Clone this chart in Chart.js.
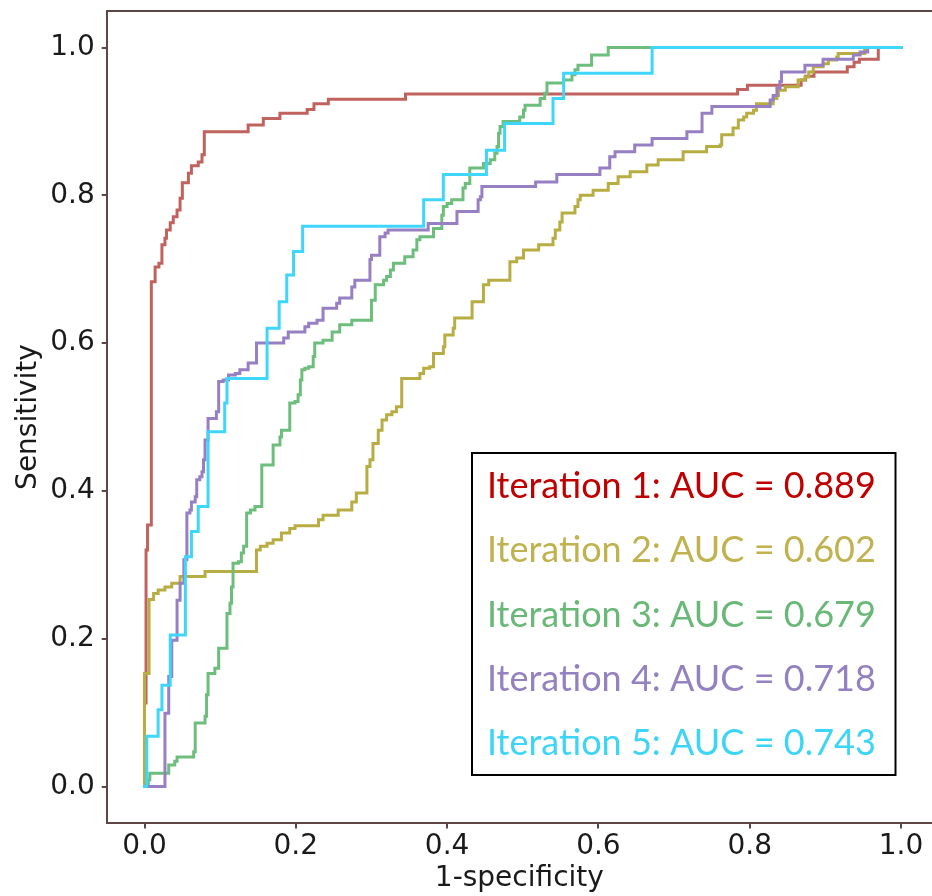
<!DOCTYPE html>
<html>
<head>
<meta charset="utf-8">
<script src="https://cdn.jsdelivr.net/npm/chart.js@4.4.0/dist/chart.umd.min.js"></script>
<style>
  html, body { margin: 0; padding: 0; background: #fff; overflow: hidden; }
  #roc { display: block; }
</style>
</head>
<body>
<canvas id="roc" width="932" height="896"></canvas>
<script>
// ROC points: fpr = 1-specificity, tpr = sensitivity
const fpr1 = [0, 0, 0.002, 0.004, 0.009, 0.014, 0.019, 0.023, 0.027, 0.029, 0.034, 0.038, 0.043, 0.047, 0.050, 0.058, 0.062, 0.071, 0.076, 0.079, 0.137, 0.157, 0.179, 0.215, 0.224, 0.243, 0.345, 0.784, 0.797, 0.868, 0.874, 0.885, 0.929, 0.938, 0.945, 0.970, 1.0];
const tpr1 = [0, 0.113, 0.320, 0.354, 0.683, 0.703, 0.708, 0.733, 0.742, 0.753, 0.763, 0.771, 0.780, 0.796, 0.817, 0.830, 0.840, 0.845, 0.855, 0.886, 0.895, 0.904, 0.911, 0.916, 0.924, 0.930, 0.937, 0.943, 0.949, 0.956, 0.961, 0.967, 0.974, 0.980, 0.984, 1.0, 1.0];

const fpr2 = [0, 0, 0.006, 0.012, 0.018, 0.027, 0.036, 0.047, 0.080, 0.148, 0.153, 0.162, 0.170, 0.181, 0.192, 0.199, 0.230, 0.236, 0.256, 0.274, 0.280, 0.294, 0.298, 0.302, 0.309, 0.314, 0.320, 0.327, 0.333, 0.340, 0.364, 0.369, 0.377, 0.382, 0.395, 0.397, 0.408, 0.410, 0.433, 0.448, 0.455, 0.483, 0.492, 0.501, 0.521, 0.540, 0.543, 0.549, 0.552, 0.569, 0.573, 0.576, 0.593, 0.613, 0.626, 0.642, 0.664, 0.679, 0.712, 0.743, 0.761, 0.763, 0.778, 0.785, 0.792, 0.796, 0.805, 0.809, 0.831, 0.836, 0.838, 0.847, 0.864, 0.873, 0.878, 0.884, 0.897, 0.904, 0.915, 0.917, 0.952, 1.0];
const tpr2 = [0, 0.153, 0.253, 0.261, 0.266, 0.270, 0.275, 0.284, 0.291, 0.320, 0.325, 0.329, 0.334, 0.343, 0.349, 0.353, 0.361, 0.367, 0.374, 0.385, 0.397, 0.433, 0.442, 0.464, 0.482, 0.496, 0.503, 0.507, 0.514, 0.552, 0.559, 0.566, 0.568, 0.586, 0.595, 0.611, 0.620, 0.634, 0.656, 0.679, 0.685, 0.710, 0.715, 0.726, 0.733, 0.742, 0.753, 0.764, 0.776, 0.785, 0.794, 0.800, 0.807, 0.816, 0.825, 0.832, 0.841, 0.848, 0.859, 0.866, 0.868, 0.882, 0.891, 0.902, 0.906, 0.911, 0.915, 0.924, 0.931, 0.935, 0.942, 0.947, 0.956, 0.960, 0.967, 0.974, 0.978, 0.983, 0.987, 0.992, 1.0, 1.0];

const fpr3 = [0, 0.005, 0.007, 0.032, 0.040, 0.043, 0.065, 0.067, 0.080, 0.082, 0.084, 0.093, 0.098, 0.109, 0.113, 0.115, 0.117, 0.124, 0.128, 0.131, 0.135, 0.140, 0.146, 0.155, 0.170, 0.179, 0.181, 0.192, 0.199, 0.203, 0.206, 0.208, 0.212, 0.217, 0.223, 0.225, 0.236, 0.248, 0.258, 0.274, 0.300, 0.305, 0.316, 0.320, 0.325, 0.329, 0.344, 0.355, 0.360, 0.364, 0.382, 0.393, 0.395, 0.400, 0.406, 0.421, 0.424, 0.430, 0.448, 0.457, 0.463, 0.466, 0.468, 0.470, 0.474, 0.496, 0.501, 0.503, 0.523, 0.529, 0.532, 0.554, 0.565, 0.569, 0.573, 0.591, 0.613, 1.0];
const tpr3 = [0, 0.009, 0.018, 0.029, 0.034, 0.040, 0.047, 0.086, 0.095, 0.124, 0.153, 0.160, 0.187, 0.234, 0.248, 0.270, 0.302, 0.304, 0.316, 0.325, 0.370, 0.374, 0.379, 0.435, 0.462, 0.473, 0.482, 0.519, 0.521, 0.530, 0.550, 0.564, 0.566, 0.568, 0.582, 0.600, 0.604, 0.615, 0.625, 0.631, 0.658, 0.679, 0.685, 0.690, 0.699, 0.708, 0.717, 0.726, 0.740, 0.744, 0.755, 0.773, 0.785, 0.789, 0.794, 0.810, 0.816, 0.837, 0.843, 0.848, 0.857, 0.866, 0.884, 0.893, 0.900, 0.906, 0.915, 0.922, 0.931, 0.938, 0.952, 0.956, 0.963, 0.970, 0.976, 0.990, 1.0, 1.0];

const fpr4 = [0, 0.027, 0.032, 0.036, 0.043, 0.047, 0.052, 0.056, 0.060, 0.062, 0.067, 0.069, 0.073, 0.076, 0.078, 0.080, 0.084, 0.095, 0.098, 0.104, 0.111, 0.120, 0.126, 0.137, 0.148, 0.184, 0.190, 0.212, 0.217, 0.228, 0.236, 0.254, 0.258, 0.274, 0.278, 0.298, 0.300, 0.311, 0.318, 0.322, 0.375, 0.413, 0.441, 0.444, 0.446, 0.517, 0.545, 0.602, 0.615, 0.622, 0.648, 0.671, 0.717, 0.737, 0.750, 0.827, 0.831, 0.836, 0.840, 0.842, 0.873, 0.897, 0.937, 0.946, 0.956, 1.0];
const tpr4 = [0, 0.099, 0.149, 0.198, 0.252, 0.275, 0.307, 0.370, 0.374, 0.385, 0.392, 0.415, 0.419, 0.426, 0.442, 0.469, 0.498, 0.507, 0.548, 0.550, 0.557, 0.559, 0.564, 0.573, 0.600, 0.607, 0.615, 0.622, 0.627, 0.631, 0.647, 0.654, 0.661, 0.676, 0.685, 0.713, 0.719, 0.744, 0.749, 0.753, 0.762, 0.778, 0.794, 0.798, 0.812, 0.818, 0.828, 0.837, 0.852, 0.859, 0.868, 0.877, 0.886, 0.911, 0.920, 0.929, 0.935, 0.945, 0.954, 0.967, 0.976, 0.984, 0.990, 0.994, 1.0, 1.0];

const fpr5 = [0, 0.003, 0.018, 0.023, 0.034, 0.054, 0.062, 0.071, 0.084, 0.106, 0.109, 0.162, 0.178, 0.188, 0.197, 0.209, 0.369, 0.395, 0.452, 0.476, 0.540, 0.554, 0.671, 1.0];
const tpr5 = [0, 0.068, 0.104, 0.137, 0.205, 0.311, 0.345, 0.379, 0.480, 0.519, 0.552, 0.620, 0.656, 0.692, 0.724, 0.758, 0.794, 0.828, 0.861, 0.897, 0.931, 0.965, 1.0, 1.0];

const iterations = [1, 2, 3, 4, 5];
const aucValues = [0.889, 0.602, 0.679, 0.718, 0.743];
const xTicks = [0, 0.2, 0.4, 0.6, 0.8, 1.0];
const yTicks = [0, 0.2, 0.4, 0.6, 0.8, 1.0];

// styles
const lineColors = ['#c0625e', '#b8ad42', '#6dbd7c', '#977fc4', '#3ed6fa'];
const textColors = ['#c00000', '#bfb24f', '#6ab878', '#9481c0', '#3cd5f7'];
const frameColor = '#5e4646';
const tickColor = '#1a1a1a';

Chart.defaults.font.family = 'DejaVu Sans';

const curves = [[fpr1, tpr1], [fpr2, tpr2], [fpr3, tpr3], [fpr4, tpr4], [fpr5, tpr5]];

const datasets = curves.map(function (c, i) {
    return {
        label: 'Iteration ' + iterations[i] + ': AUC = ' + aucValues[i].toFixed(3),
        data: c[0].map(function (x, j) { return { x: x, y: c[1][j] }; }),
        borderColor: lineColors[i],
        borderWidth: 3,
        pointRadius: 0,
        stepped: 'before',   // run right, then rise
        borderCapStyle: 'square',
        borderJoinStyle: 'miter',
        fill: false,
        order: curves.length - i   // later iterations drawn on top
    };
});

// boxed legend in the lower right of the plot
const legendBox = {
    id: 'legendBox',
    afterDraw(chart) {
        const ctx = chart.ctx;
        ctx.save();
        ctx.fillStyle = '#fff';
        ctx.fillRect(472, 453, 423.5, 322);
        ctx.strokeStyle = '#000';
        ctx.lineWidth = 2;
        ctx.strokeRect(472, 453, 423.5, 322);

        ctx.font = "36px Lato";
        const asc = ctx.measureText('I').actualBoundingBoxAscent;
        const size = 36 * 26 / asc;
        ctx.font = size + "px Lato";
        const m = ctx.measureText(chart.data.datasets[0].label);
        const ink = m.actualBoundingBoxLeft + m.actualBoundingBoxRight;
        const sx = 384 / ink;
        ctx.textBaseline = 'alphabetic';
        ctx.textAlign = 'left';
        chart.data.datasets.forEach(function (ds, i) {
            ctx.save();
            ctx.translate(490 + m.actualBoundingBoxLeft * sx, 498 + i * 64.25);
            ctx.scale(sx, 1);
            ctx.fillStyle = textColors[i];
            ctx.fillText(ds.label, 0, 0);
            ctx.restore();
        });
        ctx.restore();
    }
};

new Chart(document.getElementById('roc'), {
    type: 'line',
    data: { datasets: datasets },
    options: {
        responsive: false,
        animation: false,
        layout: { padding: 0 },
        plugins: {
            legend: { display: false },
            tooltip: { enabled: false }
        },
        scales: {
            x: {
                type: 'linear',
                position: 'bottom',
                min: -0.05,
                max: 1.041,
                afterBuildTicks: function (s) { s.ticks = xTicks.map(function (v) { return { value: v }; }); },
                afterFit: function (s) { s.height = 72.55; s.paddingLeft = 0; s.paddingRight = 0; },
                ticks: {
                    callback: function (v) { return Number(v).toFixed(1); },
                    color: tickColor,
                    font: { size: 28 },
                    padding: 1.5,
                    maxRotation: 0,
                    autoSkip: false
                },
                grid: { display: true, drawOnChartArea: false, drawTicks: true, tickLength: 5, color: frameColor, lineWidth: 2 },
                border: { display: true, color: frameColor, width: 2 },
                title: { display: true, text: '1-specificity', color: tickColor, font: { size: 28 }, padding: { top: 0, bottom: 0 } }
            },
            x2: {
                type: 'linear',
                position: 'top',
                min: -0.05,
                max: 1.041,
                afterFit: function (s) { s.height = 10.55; s.paddingLeft = 0; s.paddingRight = 0; },
                ticks: { display: false },
                grid: { display: false },
                border: { display: true, color: frameColor, width: 2 }
            },
            y: {
                type: 'linear',
                position: 'left',
                min: -0.05,
                max: 1.05,
                afterBuildTicks: function (s) { s.ticks = yTicks.map(function (v) { return { value: v }; }); },
                afterFit: function (s) { s.width = 106.7; s.paddingTop = 0; s.paddingBottom = 0; },
                ticks: {
                    callback: function (v) { return Number(v).toFixed(1); },
                    color: tickColor,
                    font: { size: 28 },
                    padding: 7,
                    autoSkip: false
                },
                grid: { display: true, drawOnChartArea: false, drawTicks: true, tickLength: 5, color: frameColor, lineWidth: 2 },
                border: { display: true, color: frameColor, width: 2 },
                title: { display: true, text: 'Sensitivity', color: tickColor, font: { size: 28 }, padding: { top: 11.5, bottom: 0 } }
            }
        }
    },
    plugins: [legendBox]
});
</script>
</body>
</html>
